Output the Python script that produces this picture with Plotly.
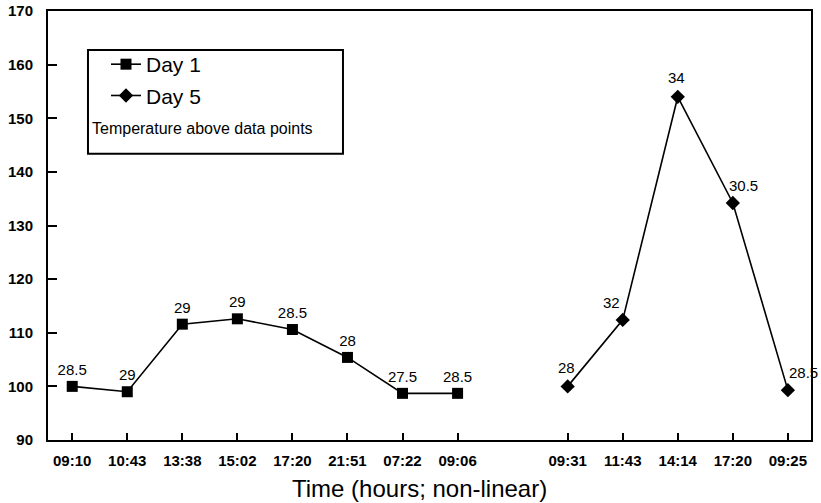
import plotly.graph_objects as go

# Sample times (category slots; one empty slot separates the two days)
day1_times = ["09:10", "10:43", "13:38", "15:02", "17:20", "21:51", "07:22", "09:06"]
day5_times = ["09:31", "11:43", "14:14", "17:20", "09:25"]
day1_pos = [0, 1, 2, 3, 4, 5, 6, 7]
day5_pos = [9, 10, 11, 12, 13]

# Measured values
day1_values = [100.0, 99.0, 111.6, 112.6, 110.6, 105.4, 98.7, 98.7]
day5_values = [100.0, 112.4, 154.0, 134.2, 99.3]

# Temperature printed above each point
day1_temps = ["28.5", "29", "29", "29", "28.5", "28", "27.5", "28.5"]
day5_temps = ["28", "32", "34", "30.5", "28.5"]

# Label placement around the Day 5 markers (anchor, x offset px, y offset px)
day5_anchor = ["center", "right", "center", "left", "left"]
day5_dx = [-1, -1, -1, -6, -1]
day5_dy = [19, 17, 19, 17, 18]

FONT = "Liberation Sans, Arial, Helvetica, sans-serif"

fig = go.Figure()
fig.add_trace(go.Scatter(
    x=day1_pos, y=day1_values, name="Day 1", legendgroup="d1",
    mode="lines+markers+text", text=day1_temps, textposition="top center",
    textfont=dict(family=FONT, size=15, color="black"),
    line=dict(color="black", width=1.6),
    marker=dict(symbol="square", size=11, color="black"),
    cliponaxis=False,
))
fig.add_trace(go.Scatter(
    x=day5_pos, y=day5_values, name="Day 5", legendgroup="d5",
    mode="lines+markers",
    line=dict(color="black", width=1.6),
    marker=dict(symbol="diamond", size=11, color="black"),
    cliponaxis=False,
))
for xp, yv, t, anc, dx, dy in zip(day5_pos, day5_values, day5_temps,
                                  day5_anchor, day5_dx, day5_dy):
    fig.add_annotation(x=xp, y=yv, text=t, showarrow=False,
                       xanchor=anc, yanchor="middle", xshift=dx, yshift=dy,
                       font=dict(family=FONT, size=15, color="black"))

# Legend frame with its note
fig.add_shape(type="rect", xref="paper", yref="paper",
              x0=0.0524, x1=0.3866, y0=0.667, y1=0.909,
              line=dict(color="black", width=2), fillcolor="white", layer="below")
fig.add_annotation(xref="paper", yref="paper", x=0.055, y=0.727,
                   xanchor="left", yanchor="middle", showarrow=False,
                   text="Temperature above data points",
                   font=dict(family=FONT, size=16, color="black"))

# Axis title
fig.add_annotation(xref="paper", yref="paper", x=0.487, y=-0.112,
                   xanchor="center", yanchor="middle", showarrow=False,
                   text="Time (hours; non-linear)",
                   font=dict(family=FONT, size=24, color="black"))

fig.update_layout(
    width=821, height=503,
    margin=dict(l=48, r=10, t=11, b=63),
    paper_bgcolor="white", plot_bgcolor="white",
    font=dict(family=FONT, color="black"),
    showlegend=True,
    legend=dict(x=0.076, y=0.923, xanchor="left", yanchor="top",
                bgcolor="rgba(0,0,0,0)", borderwidth=0,
                font=dict(family=FONT, size=21, color="black"),
                traceorder="grouped", tracegroupgap=1,
                itemclick=False),
)
fig.update_xaxes(
    range=[-0.44, 13.42], automargin=False,
    tickmode="array", tickvals=day1_pos + day5_pos, ticktext=day1_times + day5_times,
    ticks="inside", ticklen=7, tickwidth=1.5, tickcolor="black",
    showline=True, linecolor="black", linewidth=2, mirror=True,
    showgrid=False, zeroline=False,
    tickfont=dict(family=FONT, size=15, color="black", weight="bold"),
    ticklabelstandoff=6,
)
fig.update_yaxes(
    range=[90, 170], dtick=10, automargin=False,
    ticks="inside", ticklen=9, tickwidth=1.5, tickcolor="black",
    showline=True, linecolor="black", linewidth=2, mirror=True,
    showgrid=False, zeroline=False,
    tickfont=dict(family=FONT, size=15, color="black", weight="bold"),
    ticklabelstandoff=10,
)

fig.write_html("out.html")
